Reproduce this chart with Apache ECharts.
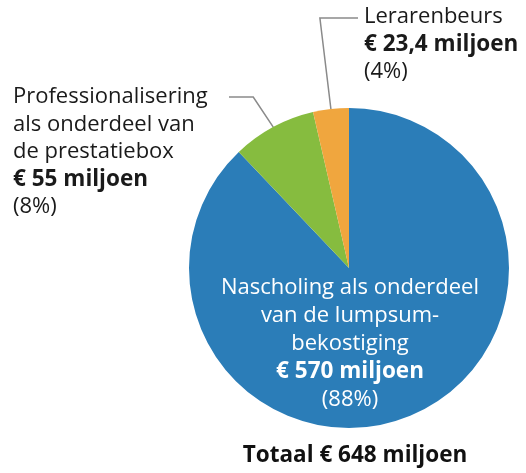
<!DOCTYPE html>
<html>
<head>
<meta charset="utf-8">
<script src="https://cdn.jsdelivr.net/npm/echarts@6/dist/echarts.min.js"></script>
<style>
  html, body { margin: 0; padding: 0; background: #fff; }
  #chart { width: 526px; height: 473px; }
</style>
</head>
<body>
<div id="chart"></div>
<script>
var names = [
  'Nascholing als onderdeel\nvan de lumpsum-\nbekostiging',
  'Professionalisering\nals onderdeel van\nde prestatiebox',
  'Lerarenbeurs'
];
var values = [570, 55, 23.4];
var percents = [88, 8, 4];
var colors = ['#2b7db8', '#86bc3f', '#f0a63e'];
var totalText = 'Totaal € 648 miljoen';

function euro(v) {
  return '€ ' + String(v).replace('.', ',') + ' miljoen';
}

var pieData = values.map(function (v, i) {
  var item = { value: v, name: names[i], itemStyle: { color: colors[i] } };
  if (i === 0) {
    item.label = { color: '#ffffff', align: 'center', lineHeight: 28, rich: { b: { lineHeight: 28 } } };
    item.labelLine = { show: false };
  }
  return item;
});

var myChart = echarts.init(document.getElementById('chart'));
var option = {
  title: {
    text: totalText,
    left: 350,
    top: 439,
    textAlign: 'center',
    textStyle: { fontFamily: 'Open Sans', fontSize: 22.5, fontWeight: 'bold', color: '#111' }
  },
  series: [
    {
      type: 'pie',
      center: [349, 268],
      radius: 160,
      startAngle: 90,
      clockwise: true,
      animation: false,
      silent: true,
      data: pieData,
      label: {
        show: true,
        position: 'outside',
        overflow: 'none',
        color: '#1a1a1a',
        fontFamily: 'Open Sans',
        fontSize: 22,
        lineHeight: 27.5,
        align: 'left',
        formatter: function (p) {
          var i = p.dataIndex;
          return names[i] + '\n{b|' + euro(values[i]) + '}\n(' + percents[i] + '%)';
        },
        rich: {
          b: { fontFamily: 'Open Sans', fontSize: 22.5, fontWeight: 'bold', lineHeight: 27.5 }
        }
      },
      labelLine: {
        show: true,
        lineStyle: { color: '#8a8a8a', width: 1.5 }
      },
      labelLayout: function (params) {
        var i = params.dataIndex;
        var p0 = params.labelLinePoints ? params.labelLinePoints[0] : [0, 0];
        if (i === 0) {
          return { x: 350, y: 344, align: 'center', verticalAlign: 'middle' };
        }
        if (i === 1) {
          return {
            x: 13, y: 83, align: 'left', verticalAlign: 'top',
            labelLinePoints: [p0, [p0[0] - 20, 97], [229, 97]]
          };
        }
        return {
          x: 364, y: 3, align: 'left', verticalAlign: 'top',
          labelLinePoints: [p0, [p0[0] - 11, 18], [358, 18]]
        };
      }
    }
  ]
};
myChart.setOption(option);
</script>
</body>
</html>
